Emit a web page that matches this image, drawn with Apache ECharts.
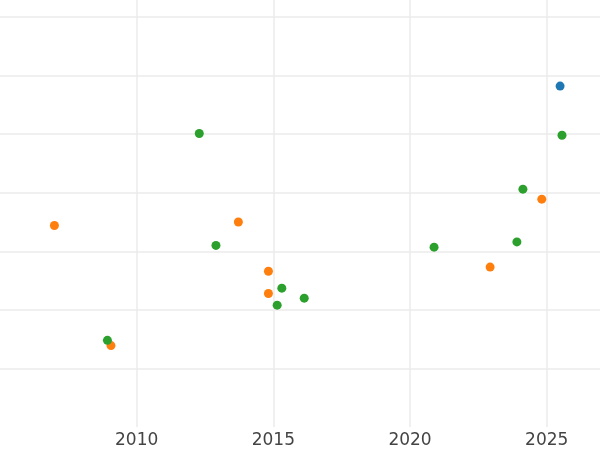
<!DOCTYPE html>
<html>
<head>
<meta charset="utf-8">
<script src="https://cdn.jsdelivr.net/npm/echarts@6/dist/echarts.min.js"></script>
<style>html,body{margin:0;padding:0;background:#fff}#c{width:600px;height:450px}</style>
</head>
<body>
<div id="c"></div>
<script>
// x tick labels: 2010, 2015, 2020, 2025
const xTicks = [2010, 2015, 2020, 2025];

const blueYears = [2025.49];
const blueValues = [5.82];

const orangeYears = [2006.99, 2013.72, 2024.82, 2014.82, 2014.82, 2009.06, 2022.93];
const orangeValues = [3.44, 3.50, 3.89, 2.66, 2.28, 1.39, 2.73];

const greenYears = [2012.29, 2025.56, 2024.13, 2012.90, 2020.88, 2023.91, 2015.31, 2015.14, 2016.13, 2008.93];
const greenValues = [5.01, 4.98, 4.06, 3.10, 3.07, 3.16, 2.37, 2.08, 2.20, 1.48];

function pairs(xs, ys) { return xs.map((x, i) => [x, ys[i]]); }

const chart = echarts.init(document.getElementById('c'), null, {renderer: 'canvas'});
const grid = '#ebebeb';
chart.setOption({
  animation: false,
  backgroundColor: '#fff',
  grid: {left: 0, right: 0, top: 0, bottom: 23, containLabel: false},
  xAxis: {
    type: 'value', min: 2005, max: 2026.95, interval: 5,
    axisLine: {show: false}, axisTick: {show: false},
    axisLabel: {
      color: '#444', fontFamily: 'DejaVu Sans', fontSize: 17, margin: 5,
      showMinLabel: false, showMaxLabel: false,
      formatter: v => xTicks.includes(v) ? String(v) : ''
    },
    splitLine: {show: true, showMinLine: false, showMaxLine: false, lineStyle: {color: grid, width: 1.5}}
  },
  yAxis: {
    type: 'value', min: 0, max: 7.29, interval: 1,
    axisLine: {show: false}, axisTick: {show: false}, axisLabel: {show: false},
    splitLine: {show: true, showMinLine: false, showMaxLine: false, lineStyle: {color: grid, width: 1.5}}
  },
  series: [
    {type: 'scatter', data: pairs(blueYears, blueValues), symbolSize: 9, itemStyle: {color: '#1f77b4', opacity: 1}},
    {type: 'scatter', data: pairs(orangeYears, orangeValues), symbolSize: 9, itemStyle: {color: '#ff7f0e', opacity: 1}},
    {type: 'scatter', data: pairs(greenYears, greenValues), symbolSize: 9, itemStyle: {color: '#2ca02c', opacity: 1}}
  ]
});
</script>
</body>
</html>
